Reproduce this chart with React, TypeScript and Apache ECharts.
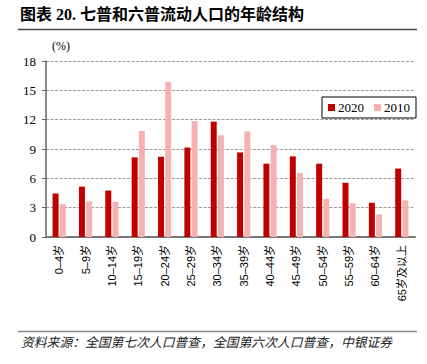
import React, { useEffect, useRef } from "react";
import * as echarts from "echarts";

const categories = ["0–4岁", "5–9岁", "10–14岁", "15–19岁", "20–24岁", "25–29岁", "30–34岁", "35–39岁", "40–44岁", "45–49岁", "50–54岁", "55–59岁", "60–64岁", "65岁及以上"];
const values2020 = [4.45, 5.15, 4.75, 8.15, 8.2, 9.15, 11.8, 8.65, 7.5, 8.25, 7.5, 5.55, 3.5, 7.0];
const values2010 = [3.35, 3.65, 3.6, 10.85, 15.85, 11.85, 10.4, 10.8, 9.4, 6.55, 3.9, 3.45, 2.3, 3.75];
const yTicks = { min: 0, max: 18, interval: 3 };

const titleText = "图表 20. 七普和六普流动人口的年龄结构";
const sourceText = "资料来源：全国第七次人口普查，全国第六次人口普查，中银证券";

export default function App() {
  const ref = useRef<HTMLDivElement>(null);
  useEffect(() => {
    if (!ref.current) return;
    const chart = echarts.init(ref.current, null, { renderer: "svg" });
    const serif = "'Liberation Serif', 'Noto Sans CJK SC', serif";
    chart.setOption({
      animation: false,
      backgroundColor: "#ffffff",
      grid: { left: 46, right: 12, top: 61, bottom: 127, containLabel: false },
      legend: {
        left: 322,
        top: 97,
        width: 86,
        height: 21,
        padding: [4, 6, 4, 6],
        borderColor: "#000",
        borderWidth: 1,
        itemWidth: 7,
        itemHeight: 7,
        itemGap: 10,
        icon: "rect",
        textStyle: { fontFamily: serif, fontSize: 13, color: "#000", padding: [0, 0, 0, -2] },
        data: ["2020", "2010"],
      },
      xAxis: {
        type: "category",
        data: categories,
        axisTick: { show: false },
        axisLine: { lineStyle: { color: "#777", width: 2 } },
        axisLabel: {
          rotate: 90,
          interval: 0,
          fontFamily: "'Liberation Sans', 'Noto Sans CJK SC', sans-serif",
          fontSize: 11,
          color: "#000",
          margin: 8,
        },
      },
      yAxis: {
        type: "value",
        min: yTicks.min,
        max: yTicks.max,
        interval: yTicks.interval,
        axisLine: { show: true, lineStyle: { color: "#666", width: 1.5 } },
        axisTick: { show: true, length: 4, lineStyle: { color: "#666" } },
        axisLabel: { fontFamily: serif, fontSize: 13, color: "#000", margin: 10 },
        splitLine: { lineStyle: { color: "#999", type: [3, 1.5], width: 1 } },
      },
      series: [
        {
          name: "2020",
          type: "bar",
          data: values2020,
          barWidth: 6,
          barGap: "20%",
          itemStyle: { color: "#C00000" },
        },
        {
          name: "2010",
          type: "bar",
          data: values2010,
          barWidth: 6,
          barGap: "20%",
          itemStyle: { color: "#F5B2B2" },
        },
      ],
      graphic: [
        {
          type: "text",
          left: 20,
          top: 6,
          style: { text: titleText, fontFamily: serif, fontSize: 16, fontWeight: "bold", fill: "#000" },
        },
        {
          type: "line",
          shape: { x1: 18, y1: 29.5, x2: 417, y2: 29.5 },
          style: { stroke: "#444", lineWidth: 1.5 },
        },
        {
          type: "text",
          left: 52,
          top: 40,
          style: { text: "(%)", fontFamily: serif, fontSize: 12, fill: "#000" },
        },
        {
          type: "line",
          shape: { x1: 18, y1: 331.5, x2: 417, y2: 331.5 },
          style: { stroke: "#888", lineWidth: 1.5 },
        },
        {
          type: "text",
          left: 21,
          top: 335,
          style: { text: sourceText, fontFamily: "'Noto Sans CJK SC', sans-serif", fontSize: 12.8, fontStyle: "italic", fill: "#222" },
        },
      ],
    });
    return () => chart.dispose();
  }, []);
  return <div ref={ref} style={{ position: "fixed", left: 0, top: 0, width: 427, height: 364 }} />;
}
